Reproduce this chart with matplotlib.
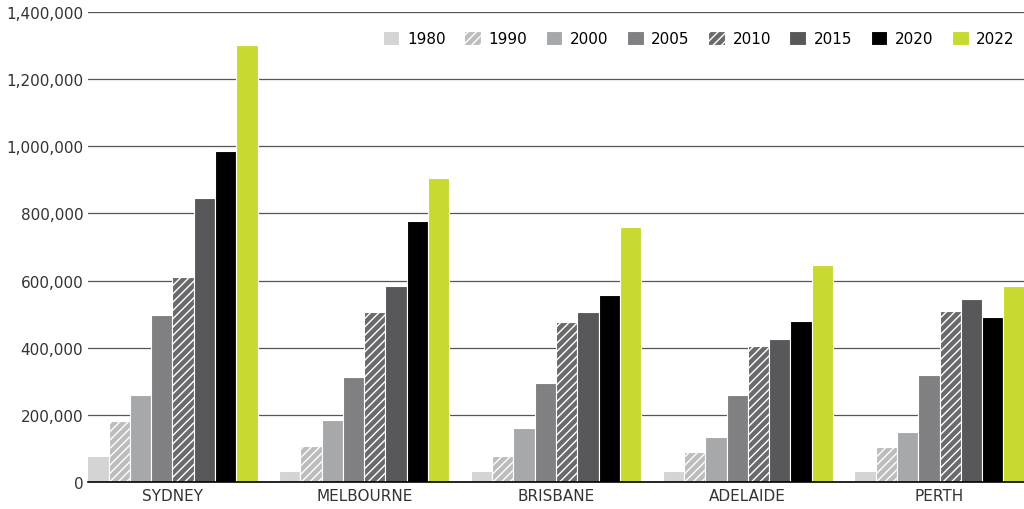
import matplotlib.pyplot as plt
import numpy as np
from matplotlib.ticker import FuncFormatter

cities = ["SYDNEY", "MELBOURNE", "BRISBANE", "ADELAIDE", "PERTH"]
years = ["1980", "1990", "2000", "2005", "2010", "2015", "2020", "2022"]
v1980 = [78000, 33000, 33000, 33000, 33000]
v1990 = [182000, 107000, 78000, 90000, 105000]
v2000 = [260000, 185000, 160000, 135000, 148000]
v2005 = [496000, 313000, 295000, 258000, 320000]
v2010 = [612000, 505000, 478000, 405000, 510000]
v2015 = [845000, 585000, 507000, 425000, 545000]
v2020 = [985000, 777000, 557000, 480000, 492000]
v2022 = [1302000, 905000, 760000, 645000, 585000]
series = [v1980, v1990, v2000, v2005, v2010, v2015, v2020, v2022]

colors = ["#d4d4d4", "#bdbdbd", "#a7a8aa", "#808082", "#6a6a6c", "#58585a", "#000000", "#c8d932"]
hatches = [None, "////", None, None, "////", None, None, None]


def main():
    plt.rcParams["hatch.linewidth"] = 1.0
    fig = plt.figure(figsize=(10.24, 5.1), dpi=100)
    ax = fig.add_axes([88 / 1024, 27 / 510, 936 / 1024, 470 / 510])

    x = np.arange(len(cities))
    w = 0.111
    for i, vals in enumerate(series):
        ax.bar(x + (i - 3.5) * w, vals, w, color=colors[i], hatch=hatches[i],
               edgecolor="white", linewidth=0.8, label=years[i], zorder=3)

    ax.set_xlim(-0.44, 4.44)
    ax.set_ylim(0, 1400000)
    ax.set_yticks(np.arange(0, 1400001, 200000))
    ax.yaxis.set_major_formatter(FuncFormatter(lambda v, p: f"{int(v):,}"))
    ax.set_xticks(x)
    ax.set_xticklabels(cities)
    ax.tick_params(axis="both", length=0, labelsize=11, colors="#333333")
    ax.tick_params(axis="x", pad=4)
    ax.grid(axis="y", color="#555555", lw=0.9, zorder=0)
    for s in ["top", "right", "left"]:
        ax.spines[s].set_visible(False)
    ax.spines["bottom"].set_color("black")
    ax.spines["bottom"].set_linewidth(1.2)
    ax.spines["bottom"].set_zorder(4)

    ax.legend(loc="upper right", bbox_to_anchor=(1.0, 0.98), ncol=8, frameon=True,
              facecolor="white", edgecolor="white", framealpha=1, fontsize=11,
              handlelength=1.1, handleheight=1.1, columnspacing=1.2, handletextpad=0.5,
              borderaxespad=0.2)

    plt.savefig("out.png", dpi=100)


if __name__ == '__main__':
    main()
